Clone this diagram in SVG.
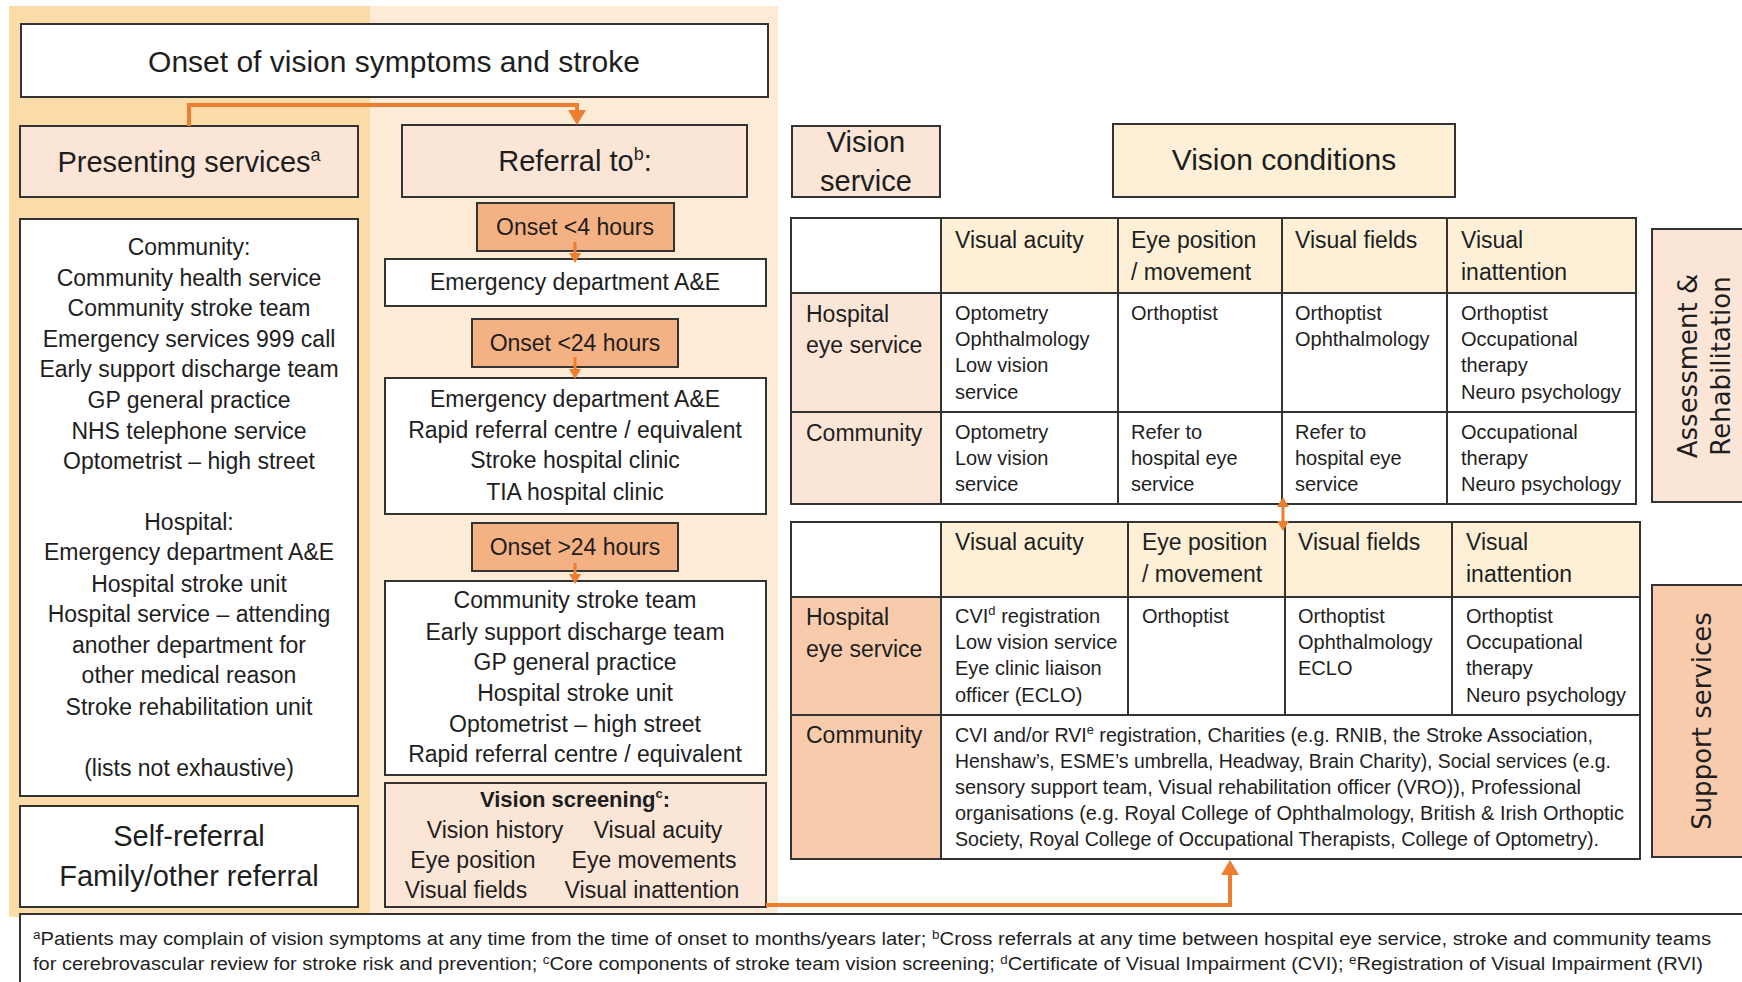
<svg xmlns="http://www.w3.org/2000/svg" width="1742" height="982" viewBox="0 0 1742 982">
<defs>
<style>
text{font-family:"Liberation Sans",Arial,sans-serif;fill:#1e1e1e}
.bx{stroke:#333;stroke-width:2}
.w{fill:#fff}
.pk{fill:#FBE5D6}
.sl{fill:#F8CBAD}
.on{fill:#F4B183}
.bg{fill:#FDF0D6}
.m{text-anchor:middle}
.f30{font-size:30px}
.f29{font-size:29px}
.f23{font-size:23px}
.f22{font-size:22px}
.f20{font-size:20px}
.f18{font-size:18px}
.b{font-weight:bold}
.rot{font-family:"DejaVu Sans",Verdana,sans-serif;font-size:26px;text-anchor:middle}
.ln{fill:none;stroke:#333;stroke-width:2}
.cn{fill:none;stroke:#ED7D31;stroke-width:4}
.cs{fill:none;stroke:#ED7D31;stroke-width:3}
</style>
<marker id="ah" markerUnits="userSpaceOnUse" markerWidth="15" markerHeight="18" viewBox="0 0 15 18" refX="0" refY="9" orient="auto"><path d="M0,0L15,9L0,18z" fill="#ED7D31"/></marker>
<marker id="as" markerUnits="userSpaceOnUse" markerWidth="10" markerHeight="12" viewBox="0 0 10 12" refX="0" refY="6" orient="auto"><path d="M0,0L10,6L0,12z" fill="#ED7D31"/></marker>
<marker id="ad" markerUnits="userSpaceOnUse" markerWidth="10" markerHeight="12" viewBox="0 0 10 12" refX="0" refY="6" orient="auto-start-reverse"><path d="M0,0L10,6L0,12z" fill="#ED7D31"/></marker>
</defs>
<rect x="0" y="0" width="1742" height="982" fill="#fff"/>
<g id="panels">
<rect x="9" y="6" width="361" height="911" fill="#FBDBA7"/>
<rect x="370" y="6" width="408" height="911" fill="#FDEBD5"/>
</g>

<g id="onset-title">
<rect class="bx w" x="21" y="24" width="747" height="73"/>
<text class="f30 m" x="394" y="72">Onset of vision symptoms and stroke</text>
</g>

<g id="presenting">
<rect class="bx pk" x="20" y="126" width="338" height="71"/>
<text class="f29 m" x="189" y="172">Presenting services<tspan font-size="18" dy="-11">a</tspan></text>
</g>

<g id="referral">
<rect class="bx pk" x="402" y="125" width="345" height="72"/>
<text class="f29 m" x="575" y="171">Referral to<tspan font-size="18" dy="-11">b</tspan><tspan dy="11">:</tspan></text>
</g>

<g id="presenting-list">
<rect class="bx w" x="20" y="219" width="338" height="577"/>
<text class="f23 m" x="189" y="255">Community:</text>
<text class="f23 m" x="189" y="286">Community health  service</text>
<text class="f23 m" x="189" y="316">Community stroke team</text>
<text class="f23 m" x="189" y="347">Emergency services 999 call</text>
<text class="f23 m" x="189" y="377">Early support discharge team</text>
<text class="f23 m" x="189" y="408">GP general practice</text>
<text class="f23 m" x="189" y="439">NHS telephone  service</text>
<text class="f23 m" x="189" y="469">Optometrist – high street</text>
<text class="f23 m" x="189" y="530">Hospital:</text>
<text class="f23 m" x="189" y="560">Emergency department A&amp;E</text>
<text class="f23 m" x="189" y="592">Hospital stroke unit</text>
<text class="f23 m" x="189" y="622">Hospital service – attending</text>
<text class="f23 m" x="189" y="653">another department for</text>
<text class="f23 m" x="189" y="683">other medical  reason</text>
<text class="f23 m" x="189" y="715">Stroke rehabilitation  unit</text>
<text class="f23 m" x="189" y="776">(lists not exhaustive)</text>
</g>

<g id="self-referral">
<rect class="bx w" x="20" y="806" width="338" height="101"/>
<text class="f29 m" x="189" y="846">Self-referral</text>
<text class="f29 m" x="189" y="886">Family/other referral</text>
</g>

<g id="onset-4">
<rect class="bx on" x="477" y="203" width="197" height="48"/>
<text class="f23 m" x="575" y="235">Onset &lt;4 hours</text>
</g>
<g id="ref-4">
<rect class="bx w" x="385" y="259" width="381" height="47"/>
<text class="f23 m" x="575" y="290">Emergency department A&amp;E</text>
</g>

<g id="onset-24">
<rect class="bx on" x="472" y="319" width="206" height="48"/>
<text class="f23 m" x="575" y="351">Onset &lt;24 hours</text>
</g>
<g id="ref-24">
<rect class="bx w" x="385" y="378" width="381" height="136"/>
<text class="f23 m" x="575" y="407">Emergency department A&amp;E</text>
<text class="f23 m" x="575" y="438">Rapid referral centre / equivalent</text>
<text class="f23 m" x="575" y="468">Stroke hospital clinic</text>
<text class="f23 m" x="575" y="500">TIA hospital clinic</text>
</g>

<g id="onset-gt24">
<rect class="bx on" x="472" y="523" width="206" height="48"/>
<text class="f23 m" x="575" y="555">Onset &gt;24 hours</text>
</g>
<g id="ref-gt24">
<rect class="bx w" x="385" y="581" width="381" height="194"/>
<text class="f23 m" x="575" y="608">Community stroke team</text>
<text class="f23 m" x="575" y="640">Early support discharge team</text>
<text class="f23 m" x="575" y="670">GP general practice</text>
<text class="f23 m" x="575" y="701">Hospital stroke unit</text>
<text class="f23 m" x="575" y="732">Optometrist – high street</text>
<text class="f23 m" x="575" y="762">Rapid referral centre / equivalent</text>
</g>

<g id="vision-screening">
<rect class="bx pk" x="385" y="783" width="381" height="124"/>
<text class="f22 b m" x="575" y="807">Vision screening<tspan font-size="13" dy="-9">c</tspan><tspan dy="9">:</tspan></text>
<text class="f23 m" x="495" y="838">Vision history</text>
<text class="f23 m" x="658" y="838">Visual acuity</text>
<text class="f23 m" x="473" y="868">Eye position</text>
<text class="f23 m" x="654" y="868">Eye movements</text>
<text class="f23 m" x="466" y="898">Visual fields</text>
<text class="f23 m" x="652" y="898">Visual inattention</text>
</g>

<g id="vision-service">
<rect class="bx pk" x="792" y="126" width="148" height="71"/>
<text class="f29 m" x="866" y="152">Vision</text>
<text class="f29 m" x="866" y="191">service</text>
</g>

<g id="vision-conditions">
<rect class="bx bg" x="1113" y="124" width="342" height="73"/>
<text class="f30 m" x="1284" y="170">Vision conditions</text>
</g>

<g id="table-assessment">
<rect class="w" x="791" y="218" width="150" height="75"/>
<rect class="bg" x="941" y="218" width="695" height="75"/>
<rect class="pk" x="791" y="293" width="150" height="211"/>
<rect class="w" x="941" y="293" width="695" height="211"/>
<rect class="ln" x="791" y="218" width="845" height="286"/>
<path class="ln" d="M791,293H1636M791,412H1636M941,218V504M1118,218V504M1282,218V504M1447,218V504"/>
<text class="f23" x="955" y="248">Visual acuity</text>
<text class="f23" x="1131" y="248">Eye position</text>
<text class="f23" x="1131" y="280">/ movement</text>
<text class="f23" x="1295" y="248">Visual fields</text>
<text class="f23" x="1461" y="248">Visual</text>
<text class="f23" x="1461" y="280">inattention</text>
<text class="f23" x="806" y="322">Hospital</text>
<text class="f23" x="806" y="353">eye service</text>
<text class="f23" x="806" y="441">Community</text>
<text class="f20" x="955" y="320">Optometry</text>
<text class="f20" x="955" y="346">Ophthalmology</text>
<text class="f20" x="955" y="372">Low vision</text>
<text class="f20" x="955" y="399">service</text>
<text class="f20" x="1131" y="320">Orthoptist</text>
<text class="f20" x="1295" y="320">Orthoptist</text>
<text class="f20" x="1295" y="346">Ophthalmology</text>
<text class="f20" x="1461" y="320">Orthoptist</text>
<text class="f20" x="1461" y="346">Occupational</text>
<text class="f20" x="1461" y="372">therapy</text>
<text class="f20" x="1461" y="399">Neuro psychology</text>
<text class="f20" x="955" y="439">Optometry</text>
<text class="f20" x="955" y="465">Low vision</text>
<text class="f20" x="955" y="491">service</text>
<text class="f20" x="1131" y="439">Refer to</text>
<text class="f20" x="1131" y="465">hospital eye</text>
<text class="f20" x="1131" y="491">service</text>
<text class="f20" x="1295" y="439">Refer to</text>
<text class="f20" x="1295" y="465">hospital eye</text>
<text class="f20" x="1295" y="491">service</text>
<text class="f20" x="1461" y="439">Occupational</text>
<text class="f20" x="1461" y="465">therapy</text>
<text class="f20" x="1461" y="491">Neuro psychology</text>
</g>

<g id="table-support">
<rect class="w" x="791" y="522" width="150" height="75"/>
<rect class="bg" x="941" y="522" width="699" height="75"/>
<rect class="sl" x="791" y="597" width="150" height="262"/>
<rect class="w" x="941" y="597" width="699" height="262"/>
<rect class="ln" x="791" y="522" width="849" height="337"/>
<path class="ln" d="M791,597H1640M791,715H1640M941,522V859M1128,522V715M1285,522V715M1452,522V715"/>
<text class="f23" x="955" y="550">Visual acuity</text>
<text class="f23" x="1142" y="550">Eye position</text>
<text class="f23" x="1142" y="582">/ movement</text>
<text class="f23" x="1298" y="550">Visual fields</text>
<text class="f23" x="1466" y="550">Visual</text>
<text class="f23" x="1466" y="582">inattention</text>
<text class="f23" x="806" y="625">Hospital</text>
<text class="f23" x="806" y="657">eye service</text>
<text class="f23" x="806" y="743">Community</text>
<text class="f20" x="955" y="623">CVI<tspan font-size="13" dy="-8">d</tspan><tspan dy="8"> registration</tspan></text>
<text class="f20" x="955" y="649">Low vision service</text>
<text class="f20" x="955" y="675">Eye clinic liaison</text>
<text class="f20" x="955" y="702">officer (ECLO)</text>
<text class="f20" x="1142" y="623">Orthoptist</text>
<text class="f20" x="1298" y="623">Orthoptist</text>
<text class="f20" x="1298" y="649">Ophthalmology</text>
<text class="f20" x="1298" y="675">ECLO</text>
<text class="f20" x="1466" y="623">Orthoptist</text>
<text class="f20" x="1466" y="649">Occupational</text>
<text class="f20" x="1466" y="675">therapy</text>
<text class="f20" x="1466" y="702">Neuro psychology</text>
<text class="f20" x="955" y="742" textLength="638" lengthAdjust="spacingAndGlyphs">CVI and/or RVI<tspan font-size="13" dy="-8">e</tspan><tspan dy="8"> registration, Charities (e.g. RNIB, the Stroke  Association,</tspan></text>
<text class="f20" x="955" y="768" textLength="656" lengthAdjust="spacingAndGlyphs">Henshaw’s, ESME’s umbrella,  Headway, Brain Charity), Social services (e.g.</text>
<text class="f20" x="955" y="794" textLength="626" lengthAdjust="spacingAndGlyphs">sensory support team,  Visual rehabilitation officer (VRO)), Professional</text>
<text class="f20" x="955" y="820" textLength="669" lengthAdjust="spacingAndGlyphs">organisations (e.g. Royal College of Ophthalmology, British &amp; Irish Orthoptic</text>
<text class="f20" x="955" y="846" textLength="644" lengthAdjust="spacingAndGlyphs">Society, Royal College of Occupational  Therapists, College of Optometry).</text>
</g>

<g id="assessment-rehab">
<rect class="bx pk" x="1652" y="229" width="110" height="273"/>
<text class="rot" transform="translate(1697,366) rotate(-90)">Assessment &amp;</text>
<text class="rot" transform="translate(1730,366) rotate(-90)">Rehabilitation</text>
</g>

<g id="support-services">
<rect class="bx sl" x="1652" y="585" width="110" height="272"/>
<text class="rot" transform="translate(1711,721) rotate(-90)">Support services</text>
</g>

<g id="connectors">
<path class="cn" d="M189,126V105H577V110" marker-end="url(#ah)"/>
<path class="cs" d="M575,242V253" marker-end="url(#as)"/>
<path class="cs" d="M575,357V369" marker-end="url(#as)"/>
<path class="cs" d="M575,563V574" marker-end="url(#as)"/>
<path class="cs" d="M1283,507V521" marker-start="url(#ad)" marker-end="url(#ad)"/>
<path class="cn" d="M766,905H1230V875" marker-end="url(#ah)"/>
</g>

<g id="footnote">
<rect class="bx w" x="20" y="914" width="1740" height="80"/>
<text class="f18" x="33" y="945" textLength="1678" lengthAdjust="spacingAndGlyphs"><tspan font-size="12" dy="-6">a</tspan><tspan dy="6">Patients may complain of vision symptoms at any time from the time of onset to months/years later; </tspan><tspan font-size="12" dy="-6">b</tspan><tspan dy="6">Cross referrals at any time between hospital eye service, stroke and community  teams</tspan></text>
<text class="f18" x="33" y="970" textLength="1670" lengthAdjust="spacingAndGlyphs">for cerebrovascular review for stroke risk and prevention; <tspan font-size="12" dy="-6">c</tspan><tspan dy="6">Core components  of stroke team vision screening; </tspan><tspan font-size="12" dy="-6">d</tspan><tspan dy="6">Certificate of Visual Impairment (CVI); </tspan><tspan font-size="12" dy="-6">e</tspan><tspan dy="6">Registration of Visual Impairment (RVI)</tspan></text>
</g>
</svg>
